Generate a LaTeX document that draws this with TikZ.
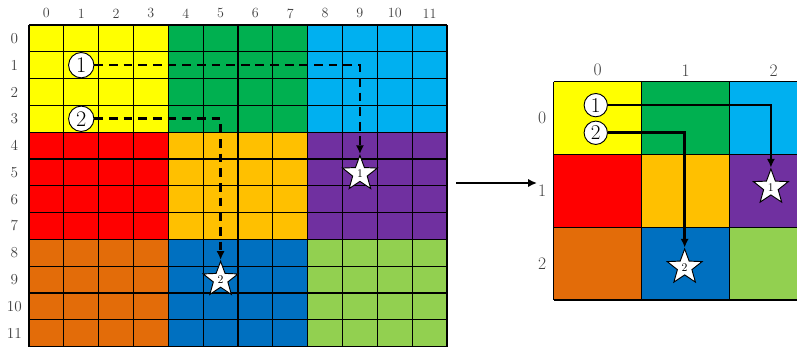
\documentclass[tikz,border=0pt]{standalone}
\usetikzlibrary{shapes.geometric,arrows.meta}
\definecolor{zyellow}{HTML}{FFFF00}
\definecolor{zgreen}{HTML}{00B050}
\definecolor{zsky}{HTML}{00B0F0}
\definecolor{zred}{HTML}{FF0000}
\definecolor{zamber}{HTML}{FFC000}
\definecolor{zpurple}{HTML}{7030A0}
\definecolor{zrust}{HTML}{E36C09}
\definecolor{zblue}{HTML}{0070C0}
\definecolor{zlime}{HTML}{92D050}
\tikzset{
  lbl/.style={text=black!75, inner sep=0pt},
  numcirc/.style={circle, draw, fill=white, line width=0.8pt, inner sep=0pt, minimum size=0.76cm, font=\fontsize{19}{19}\selectfont},
  goal/.style={star, star points=5, star point ratio=2.4, draw, fill=white, line width=0.8pt, inner sep=0pt, minimum size=1.1cm, font=\fontsize{10}{10}\selectfont},
  gridline/.style={line width=0.9pt},
  route/.style={line width=2.2pt, -{Latex[length=7.5pt,width=7pt]}},
}
\begin{document}
\begin{tikzpicture}[x=0.03cm, y=0.03cm]
  \useasboundingbox (0,0) rectangle (797,348);
  % 12x12 map, 3x3 blocks of 4x4 cells
  \begin{scope}[shift={(0.87cm,0.042cm)}, x=1.045cm, y=0.804cm]
    \foreach \c [count=\k from 0] in {zyellow,zgreen,zsky,zred,zamber,zpurple,zrust,zblue,zlime} {
      \pgfmathtruncatemacro\bi{mod(\k,3)} \pgfmathtruncatemacro\bj{div(\k,3)}
      \fill[\c] (4*\bi,12-4*\bj) rectangle ++(4,-4);
    }
    \foreach \i in {0,...,12} {
      \draw[gridline] (\i,0) -- (\i,12);
      \draw[gridline] (0,\i) -- (12,\i);
    }
    \foreach \i in {0,...,11} {
      \node[lbl, font=\fontsize{12}{12}\selectfont] (lt\i) at (\i+0.5,12.43) {\i};
      \node[lbl, font=\fontsize{13}{13}\selectfont] (ll\i) at (-0.42,11.5-\i) {\i};
    }
    \node[numcirc] (c1) at (1.5,10.5) {1};
    \node[numcirc] (c2) at (1.5,8.5) {2};
    \node[goal] (s1) at (9.5,6.45) {1};
    \node[goal] (s2) at (5.5,2.5) {2};
    \draw[route, dash pattern=on 7.5pt off 5pt] (c1.east) -| (s1.north);
    \draw[route, dash pattern=on 7.5pt off 5pt] (c2.east) -| (s2.north);
  \end{scope}
  \coordinate (from) at (456,165);
  \coordinate (to) at (537,165);
  \draw[line width=1.8pt, -{Latex[length=7.5pt,width=7pt]}] (from) -- (to);
  % the same map, one cell per block
  \begin{scope}[shift={(16.605cm,1.44cm)}, x=2.64cm, y=2.181cm]
    \foreach \c [count=\k from 0] in {zyellow,zgreen,zsky,zred,zamber,zpurple,zrust,zblue,zlime} {
      \pgfmathtruncatemacro\bi{mod(\k,3)} \pgfmathtruncatemacro\bj{div(\k,3)}
      \fill[\c] (\bi,3-\bj) rectangle ++(1,-1);
    }
    \foreach \i in {0,...,3} {
      \draw[gridline] (\i,0) -- (\i,3);
      \draw[gridline] (0,\i) -- (3,\i);
    }
    \foreach \i in {0,1,2} {
      \node[lbl, font=\fontsize{15}{15}\selectfont] (rt\i) at (\i+0.5,3.16) {\i};
      \node[lbl, font=\fontsize{15}{15}\selectfont] (rl\i) at (-0.13,2.5-\i) {\i};
    }
    \node[numcirc, minimum size=0.7cm, font=\fontsize{18}{18}\selectfont] (d1) at (0.48,2.68) {1};
    \node[numcirc, minimum size=0.7cm, font=\fontsize{18}{18}\selectfont] (d2) at (0.48,2.3) {2};
    \node[goal] (t1) at (2.47,1.55) {1};
    \node[goal] (t2) at (1.49,0.45) {2};
    \draw[route] (d1.east) -| (t1.north);
    \draw[route] (d2.east) -| (t2.north);
  \end{scope}
\end{tikzpicture}
\end{document}
